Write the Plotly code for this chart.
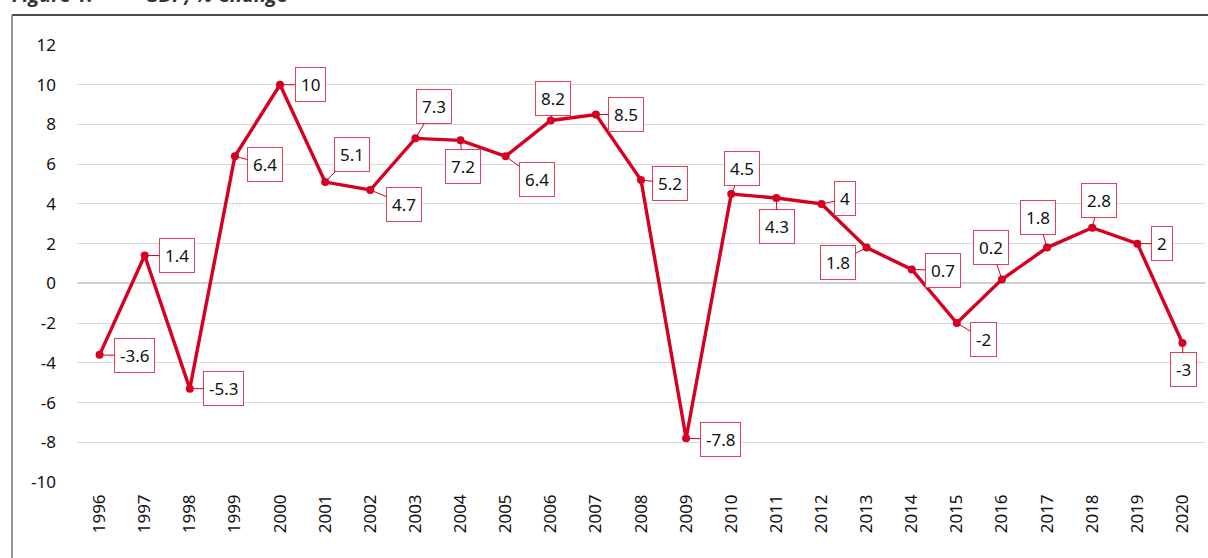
import plotly.graph_objects as go

years = [str(y) for y in range(1996, 2021)]
gdp_change = [-3.6, 1.4, -5.3, 6.4, 10, 5.1, 4.7, 7.3, 7.2, 6.4, 8.2, 8.5, 5.2,
              -7.8, 4.5, 4.3, 4, 1.8, 0.7, -2, 0.2, 1.8, 2.8, 2, -3]
y_ticks = list(range(-10, 13, 2))
y_tick_labels = [str(t) for t in y_ticks]
title_left = "Figure 1:"
title_right = "GDP, % Change"

# label callout offsets (pixels, style only)
label_offsets = [(35, 1), (32, 0), (34, 0), (30, 8), (30, 0), (27, -28), (34, 14),
                 (19, -32), (2, 26), (31, 23), (2, -22), (30, 0), (29, 3),
                 (34, 1), (11, -25), (1, 29), (24, -5), (-29, 15), (31, 1),
                 (27, 16), (-11, -32), (-9, -30), (7, -27), (25, 0), (1, 27)]

RED = "#D50022"
W, H = 1208, 558
ML, MR, MT, MB = 77, 3, 45, 76
PW, PH = W - ML - MR, H - MT - MB


def px_x(px):
    return (px - ML) / PW


def px_y(py):
    return (H - MB - py) / PH


fig = go.Figure()
fig.add_trace(go.Scatter(
    x=years, y=gdp_change, mode="lines+markers",
    line=dict(color=RED, width=3.4),
    marker=dict(color=RED, size=8),
    cliponaxis=False, showlegend=False,
))

for i, (v, (ax, ay)) in enumerate(zip(gdp_change, label_offsets)):
    fig.add_annotation(
        x=i, y=v, text=f"{v:g}", showarrow=True, arrowhead=0, arrowwidth=1,
        arrowcolor=RED, ax=ax, ay=ay, standoff=0,
        bgcolor="white", bordercolor="#E0405A", borderwidth=1, borderpad=5,
        font=dict(family="Noto Sans", size=17, color="#111111"),
    )

# partially visible title
fig.add_annotation(xref="paper", yref="paper", x=px_x(10), y=px_y(10),
                   xanchor="left", yanchor="bottom", showarrow=False,
                   text="<b><i>" + title_left + "</i></b>",
                   font=dict(family="Open Sans", size=20, color="#333333"))
fig.add_annotation(xref="paper", yref="paper", x=px_x(143), y=px_y(10),
                   xanchor="left", yanchor="bottom", showarrow=False,
                   text="<b><i>" + title_right + "</i></b>",
                   font=dict(family="Open Sans", size=20, color="#333333"))

# frame border
fig.add_shape(type="line", xref="paper", yref="paper",
              x0=px_x(12), x1=px_x(1210), y0=px_y(15), y1=px_y(15),
              line=dict(color="#111111", width=1.5))
fig.add_shape(type="line", xref="paper", yref="paper",
              x0=px_x(12), x1=px_x(12), y0=px_y(15), y1=px_y(560),
              line=dict(color="#777777", width=1.5))

fig.update_layout(
    width=W, height=H,
    margin=dict(l=ML, r=MR, t=MT, b=MB, autoexpand=False),
    plot_bgcolor="white", paper_bgcolor="white",
    font=dict(family="Noto Sans", size=16, color="#111111"),
    xaxis=dict(type="category", range=[-0.5, len(years) - 0.5], autorange=False,
               tickangle=-90, showgrid=False, showline=False, automargin=False,
               ticks="", tickfont=dict(size=17), ticklabelstandoff=8),
    yaxis=dict(range=[-10, 12], autorange=False, tickvals=y_ticks,
               ticktext=y_tick_labels, showgrid=True, automargin=False,
               gridcolor="#D9D9D9", gridwidth=1, zeroline=True,
               zerolinecolor="#D0D0D0", zerolinewidth=1.5, showline=False,
               ticks="", tickfont=dict(size=17), ticklabelstandoff=20),
)

fig.write_html("out.html", config={"displayModeBar": False},
               post_script="document.body.style.margin='0px';"
                           "document.body.style.overflow='hidden';")
